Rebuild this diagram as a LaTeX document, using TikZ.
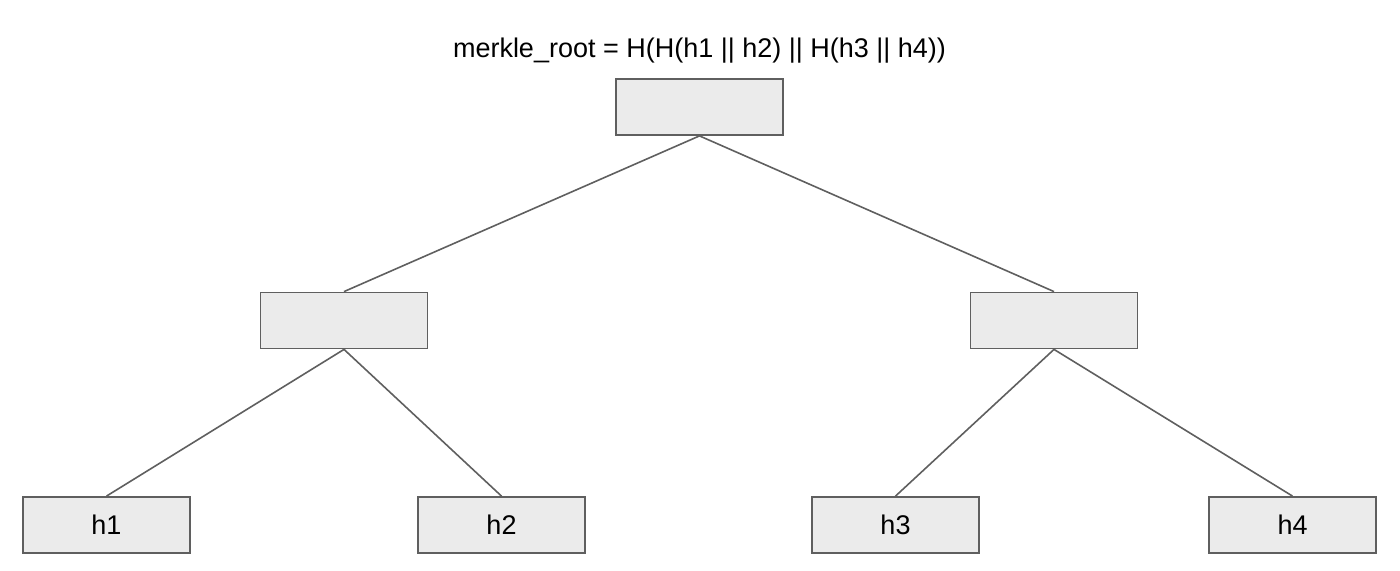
\documentclass[tikz,border=0pt]{standalone}
\usepackage{fontspec}
\setmainfont{Liberation Sans}
\definecolor{edgec}{HTML}{5F5F5F}
\definecolor{boxfill}{HTML}{EBEBEB}
\begin{document}
\begin{tikzpicture}[x=1bp,y=-1bp,
  hashbox/.style={draw=edgec, fill=boxfill, line width=1.8bp, minimum width=167bp, minimum height=56bp, inner sep=0pt, font=\fontsize{27bp}{32bp}\selectfont},
  link/.style={draw=edgec, line width=1.6bp}]
\useasboundingbox (0,0) rectangle (1400,571);
\node[font=\fontsize{27bp}{32bp}\selectfont, anchor=base, inner sep=0pt] (title) at (699.5,58) {merkle\_root = H(H(h1 || h2) || H(h3 || h4))};
\node[hashbox] (root) at (699.5,107) {};
\node[hashbox] (ml) at (344,320.5) {};
\node[hashbox] (mr) at (1054,320.5) {};
\node[hashbox] (h1) at (106.5,525) {h1};
\node[hashbox] (h2) at (501.5,525) {h2};
\node[hashbox] (h3) at (895.5,525) {h3};
\node[hashbox] (h4) at (1292.5,525) {h4};
\draw[link] (root.south) -- (ml.north);
\draw[link] (root.south) -- (mr.north);
\draw[link] (ml.south) -- (h1.north);
\draw[link] (ml.south) -- (h2.north);
\draw[link] (mr.south) -- (h3.north);
\draw[link] (mr.south) -- (h4.north);
\end{tikzpicture}
\end{document}
